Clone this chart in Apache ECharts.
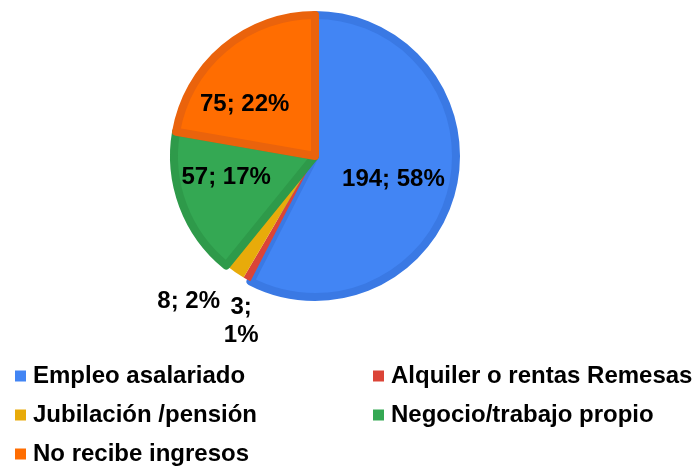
<!DOCTYPE html>
<html>
<head>
    <meta charset="utf-8" />
    <title>Ingresos</title>
    <script src="https://cdn.jsdelivr.net/npm/echarts@6/dist/echarts.min.js"></script>
    <style>
        html, body { margin: 0; padding: 0; background: #fff; }
        #main { width: 697px; height: 470px; }
    </style>
</head>
<body>
    <div id="main"></div>
    <script type="text/javascript">
        // datos del grafico
        var categories = ['Empleo asalariado', 'Alquiler o rentas Remesas', 'Jubilación /pensión', 'Negocio/trabajo propio', 'No recibe ingresos'];
        var values = [194, 3, 8, 57, 75];
        var percents = ['58%', '1%', '2%', '17%', '22%'];

        var fillColors = ['#4285f4', '#db4437', '#e8ab0a', '#34a853', '#ff6d01'];
        var borderColors = ['#3a79e4', '#c93b2f', '#e0a208', '#2e9a4a', '#ea630c'];

        // ajuste de etiquetas (dx, dy, align)
        var labelShift = [[7, 6], [4, 33, 'center'], [-4, 21], [-20, -4], [-23, 5]];

        var myChart = echarts.init(document.getElementById('main'));

        var pieData = categories.map(function (name, i) {
            var small = values[i] < 10;
            return {
                name: name,
                value: values[i],
                itemStyle: {
                    color: fillColors[i],
                    borderColor: small ? fillColors[i] : borderColors[i],
                    borderWidth: small ? 0 : 8
                },
                label: {
                    position: small ? 'outside' : 'inside',
                    formatter: i === 1 ? values[i] + ';\n' + percents[i] : values[i] + '; ' + percents[i]
                },
                labelLine: { show: false }
            };
        });

        var textBase = { fontFamily: 'Liberation Sans, Arial, sans-serif', fontWeight: 'bold', color: '#000' };

        function legendAt(left, names) {
            return {
                orient: 'vertical',
                left: left,
                top: 364,
                padding: 0,
                icon: 'rect',
                itemWidth: 11,
                itemHeight: 11,
                itemGap: 15,
                itemStyle: { borderWidth: 0 },
                textStyle: Object.assign({ fontSize: 24, lineHeight: 24, padding: [0, 0, 0, 2] }, textBase),
                data: names
            };
        }

        var option = {
            animation: false,
            legend: [
                legendAt(15, [categories[0], categories[2], categories[4]]),
                legendAt(373, [categories[1], categories[3]])
            ],
            series: [{
                type: 'pie',
                center: [315, 156],
                radius: 141,
                startAngle: 90,
                clockwise: true,
                avoidLabelOverlap: false,
                label: Object.assign({ fontSize: 24, lineHeight: 28 }, textBase),
                labelLine: { show: false, length: 10, length2: 0 },
                labelLayout: function (params) {
                    var s = labelShift[params.dataIndex];
                    var out = { dx: s[0], dy: s[1] };
                    if (s[2]) out.align = s[2];
                    return out;
                },
                data: pieData
            }]
        };

        myChart.setOption(option);
    </script>
</body>
</html>
